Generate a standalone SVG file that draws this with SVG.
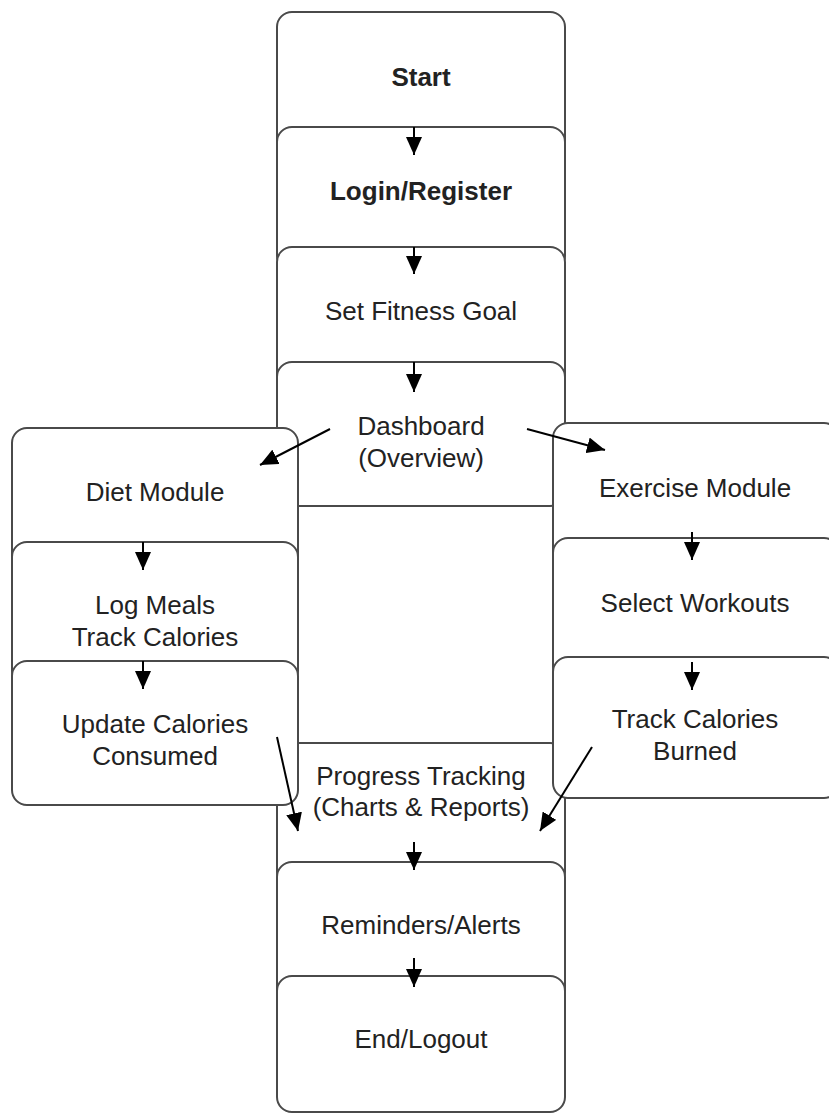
<svg xmlns="http://www.w3.org/2000/svg" width="829" height="1113" viewBox="0 0 829 1113">
<style>
.box{fill:#fff;stroke:#4a4a4a;stroke-width:2}
.t{font-family:"Liberation Sans",Arial,sans-serif;font-size:26px;fill:#222;text-anchor:middle}
.b{font-weight:bold}
.c{stroke:#000;stroke-width:2;fill:none;marker-end:url(#ah)}
</style>
<defs>
<marker id="ah" viewBox="0 0 18 16" refX="18" refY="8" markerWidth="18" markerHeight="16" markerUnits="userSpaceOnUse" orient="auto">
<path d="M0,0 L18,8 L0,16 z" fill="#000"/>
</marker>
</defs>
<rect width="829" height="1113" fill="#fff"/>
<g id="start"><rect class="box" x="277" y="12" width="288" height="144" rx="15"/><text class="t b" x="421" y="86">Start</text></g>
<g id="login"><rect class="box" x="277" y="127" width="288" height="144" rx="15"/><text class="t b" x="421" y="200">Login/Register</text></g>
<g id="goal"><rect class="box" x="277" y="247" width="288" height="144" rx="15"/><text class="t" x="421" y="320">Set Fitness Goal</text></g>
<g id="dashboard"><rect class="box" x="277" y="362" width="288" height="144" rx="15"/><text class="t" x="421" y="435">Dashboard</text><text class="t" x="421" y="467">(Overview)</text></g>
<g id="progress"><rect class="box" x="277" y="743" width="288" height="144" rx="15"/><text class="t" x="421" y="785">Progress Tracking</text><text class="t" x="421" y="816">(Charts &amp; Reports)</text></g>
<g id="reminders"><rect class="box" x="277" y="862" width="288" height="144" rx="15"/><text class="t" x="421" y="934">Reminders/Alerts</text></g>
<g id="end"><rect class="box" x="277" y="976" width="288" height="136" rx="15"/><text class="t" x="421" y="1048">End/Logout</text></g>
<g id="diet"><rect class="box" x="12" y="428" width="286" height="144" rx="15"/><text class="t" x="155" y="501">Diet Module</text></g>
<g id="logmeals"><rect class="box" x="12" y="542" width="286" height="144" rx="15"/><text class="t" x="155" y="614">Log Meals</text><text class="t" x="155" y="646">Track Calories</text></g>
<g id="consumed"><rect class="box" x="12" y="661" width="286" height="144" rx="15"/><text class="t" x="155" y="733">Update Calories</text><text class="t" x="155" y="765">Consumed</text></g>
<g id="exercise"><rect class="box" x="553" y="423" width="286" height="144" rx="15"/><text class="t" x="695" y="497">Exercise Module</text></g>
<g id="workouts"><rect class="box" x="553" y="538" width="286" height="144" rx="15"/><text class="t" x="695" y="612">Select Workouts</text></g>
<g id="burned"><rect class="box" x="553" y="657" width="286" height="141" rx="15"/><text class="t" x="695" y="728">Track Calories</text><text class="t" x="695" y="760">Burned</text></g>
<g id="connectors">
<line class="c" x1="414" y1="127" x2="414" y2="155"/>
<line class="c" x1="414" y1="247" x2="414" y2="274"/>
<line class="c" x1="414" y1="362" x2="414" y2="392"/>
<line class="c" x1="143" y1="542" x2="143" y2="570"/>
<line class="c" x1="143" y1="661" x2="143" y2="689"/>
<line class="c" x1="692" y1="532" x2="692" y2="560"/>
<line class="c" x1="692" y1="662" x2="692" y2="690"/>
<line class="c" x1="414" y1="842" x2="414" y2="870"/>
<line class="c" x1="414" y1="958" x2="414" y2="987"/>
<line class="c" x1="330" y1="429" x2="260" y2="465"/>
<line class="c" x1="527" y1="429" x2="605" y2="450"/>
<line class="c" x1="277" y1="737" x2="298" y2="831"/>
<line class="c" x1="592" y1="747" x2="540" y2="831"/>
</g>
</svg>
